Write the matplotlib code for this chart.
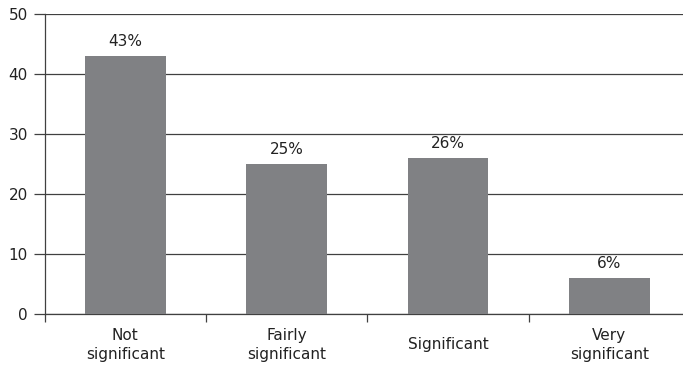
import numpy as np
import matplotlib.pyplot as plt

# survey answers, share of respondents (%)
categories = ["Not\nsignificant", "Fairly\nsignificant", "Significant", "Very\nsignificant"]
shares = [43, 25, 26, 6]
y_ticks = [0, 10, 20, 30, 40, 50]

bar_color = "#808184"
line_color = "#404040"
text_color = "#222222"

plt.rcParams["font.family"] = ["DejaVu Sans"]

fig = plt.figure(figsize=(6.83, 3.67), dpi=100)
ax = fig.add_axes([44.5 / 683, 1 - 314 / 367, 645.5 / 683, 300 / 367])

x = np.arange(len(categories))
ax.bar(x, shares, width=0.5, color=bar_color, zorder=3)
for xi, v in zip(x, shares):
    ax.text(xi, v + 1.2, f"{v}%", ha="center", va="bottom", fontsize=11, color=text_color)

ax.set_xlim(-0.5, len(categories) - 0.5)
ax.set_ylim(0, 50)
ax.set_yticks(y_ticks)
ax.yaxis.grid(True, color=line_color, linewidth=0.9, zorder=0)
ax.tick_params(axis="y", length=8, width=0.9, color=line_color, labelsize=11,
               labelcolor=text_color, pad=4)

# tick marks on category boundaries, labels centred under each bar
ax.set_xticks(np.arange(len(categories) + 1) - 0.5)
ax.set_xticklabels([])
ax.tick_params(axis="x", length=6, width=0.9, color=line_color)
for xi, name in zip(x, categories):
    ax.text(xi, -31 / 300, name, transform=ax.get_xaxis_transform(), ha="center",
            va="center", fontsize=11, color=text_color, linespacing=1.35)

for side in ["top", "right"]:
    ax.spines[side].set_visible(False)
for side in ["left", "bottom"]:
    ax.spines[side].set_color(line_color)
    ax.spines[side].set_linewidth(0.9)

fig.savefig("out.png", dpi=100)
